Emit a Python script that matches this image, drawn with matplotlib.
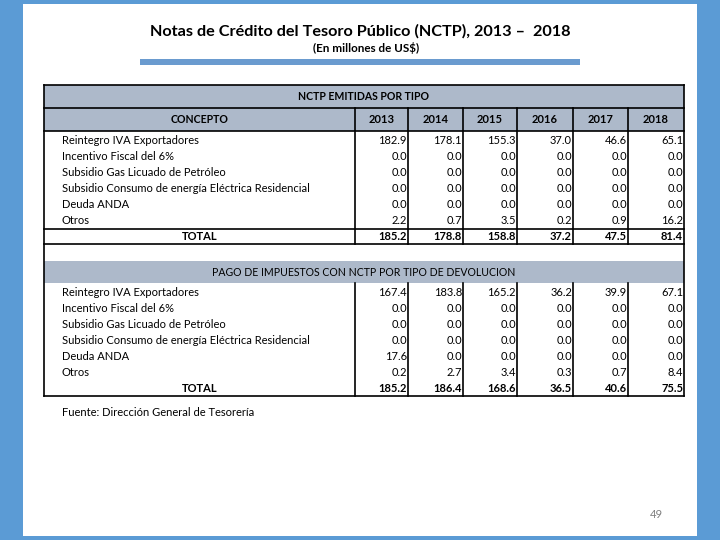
import matplotlib
matplotlib.use("Agg")
import matplotlib.pyplot as plt
from matplotlib.patches import Rectangle

title = "Notas de Crédito del Tesoro Público (NCTP), 2013 –  2018"
subtitle = "(En millones de US$)"
section1_title = "NCTP EMITIDAS POR TIPO"
section2_title = "PAGO DE IMPUESTOS CON NCTP POR TIPO DE DEVOLUCION"
concept_header = "CONCEPTO"
years = ["2013", "2014", "2015", "2016", "2017", "2018"]
concepts = ["Reintegro IVA Exportadores", "Incentivo Fiscal del 6%",
            "Subsidio Gas Licuado de Petróleo",
            "Subsidio Consumo de energía Eléctrica Residencial",
            "Deuda ANDA", "Otros"]
total_label = "TOTAL"

emitidas_reintegro = [182.9, 178.1, 155.3, 37.0, 46.6, 65.1]
emitidas_incentivo = [0.0, 0.0, 0.0, 0.0, 0.0, 0.0]
emitidas_gas = [0.0, 0.0, 0.0, 0.0, 0.0, 0.0]
emitidas_energia = [0.0, 0.0, 0.0, 0.0, 0.0, 0.0]
emitidas_anda = [0.0, 0.0, 0.0, 0.0, 0.0, 0.0]
emitidas_otros = [2.2, 0.7, 3.5, 0.2, 0.9, 16.2]
emitidas_total = [185.2, 178.8, 158.8, 37.2, 47.5, 81.4]

pago_reintegro = [167.4, 183.8, 165.2, 36.2, 39.9, 67.1]
pago_incentivo = [0.0, 0.0, 0.0, 0.0, 0.0, 0.0]
pago_gas = [0.0, 0.0, 0.0, 0.0, 0.0, 0.0]
pago_energia = [0.0, 0.0, 0.0, 0.0, 0.0, 0.0]
pago_anda = [17.6, 0.0, 0.0, 0.0, 0.0, 0.0]
pago_otros = [0.2, 2.7, 3.4, 0.3, 0.7, 8.4]
pago_total = [185.2, 186.4, 168.6, 36.5, 40.6, 75.5]

source = "Fuente: Dirección General de Tesorería"
page_number = "49"

plt.rcParams['font.family'] = ['Lato', 'DejaVu Sans']

W, H = 720, 540
fig = plt.figure(figsize=(7.2, 5.4), dpi=100)
fig.patch.set_facecolor("#5B9BD5")
ax = fig.add_axes([0, 0, 1, 1])
ax.set_xlim(0, W)
ax.set_ylim(H, 0)
ax.axis("off")

# white slide area
ax.add_patch(Rectangle((23, 4), 674, 532, facecolor="white", edgecolor="none"))

# titles
ax.text(360, 31, title, ha="center", va="center", fontsize=11.7, fontweight="bold", color="black")
ax.text(366, 48, subtitle, ha="center", va="center", fontsize=8.4, fontweight="bold", color="black")
ax.add_patch(Rectangle((140, 59), 440, 6, facecolor="#6A9BCF", edgecolor="none"))

# table geometry
left, right = 44, 684
col_edges = [left, 355, 408, 463, 517, 573, 628, right]
band = "#ADB9CA"
fs = 8
lc = "black"
lw = 1.2

def draw_section(top, title_txt, title_weight, with_colheader, rows, totals):
    y = top
    th = 23 if with_colheader else 22
    ax.add_patch(Rectangle((left, y), right - left, th, facecolor=band, edgecolor="none"))
    ax.text((left + right) / 2, y + th / 2, title_txt, ha="center", va="center",
            fontsize=7.6, fontweight=title_weight)
    y += th
    if with_colheader:
        ax.add_patch(Rectangle((left, y), right - left, 23, facecolor=band, edgecolor="none"))
        ax.plot([left, right], [y, y], color=lc, lw=lw)
        ax.text((col_edges[0] + col_edges[1]) / 2, y + 11.5, concept_header, ha="center",
                va="center", fontsize=7.6, fontweight="bold")
        for i, yr in enumerate(years):
            ax.text((col_edges[i + 1] + col_edges[i + 2]) / 2, y + 11.5, yr, ha="center",
                    va="center", fontsize=fs, fontweight="bold")
        y += 23
        ax.plot([left, right], [y, y], color=lc, lw=lw)
    body_top = y
    rh = 16
    y += 2
    for name, vals in zip(concepts, rows):
        cy = y + rh / 2
        ax.text(62, cy, name, ha="left", va="center", fontsize=fs)
        for i, v in enumerate(vals):
            ax.text(col_edges[i + 2] - 1, cy, f"{v:.1f}", ha="right", va="center", fontsize=fs)
        y += rh
    if with_colheader:
        ax.plot([left, right], [y, y], color=lc, lw=lw)
    cy = y + 7.5
    ax.text((col_edges[0] + col_edges[1]) / 2, cy, total_label, ha="center", va="center",
            fontsize=fs, fontweight="bold")
    for i, v in enumerate(totals):
        ax.text(col_edges[i + 2] - 1, cy, f"{v:.1f}", ha="right", va="center",
                fontsize=fs, fontweight="bold")
    y += 15
    ax.plot([left, right], [y, y], color=lc, lw=lw)
    for x in col_edges[1:-1]:
        ax.plot([x, x], [body_top - (23 if with_colheader else 0), y], color=lc, lw=lw)
    return y

sec1_rows = [emitidas_reintegro, emitidas_incentivo, emitidas_gas, emitidas_energia,
             emitidas_anda, emitidas_otros]
sec2_rows = [pago_reintegro, pago_incentivo, pago_gas, pago_energia, pago_anda, pago_otros]

top = 85
ax.plot([left, right], [top, top], color=lc, lw=lw)
y1 = draw_section(top, section1_title, "bold", True, sec1_rows, emitidas_total)
y2 = draw_section(y1 + 17, section2_title, "normal", False, sec2_rows, pago_total)
ax.plot([left, left], [top, y2], color=lc, lw=lw)
ax.plot([right, right], [top, y2], color=lc, lw=lw)

ax.text(62, 412, source, ha="left", va="center", fontsize=fs)
ax.text(656, 514, page_number, ha="center", va="center", fontsize=8, color="#7F7F7F")

fig.savefig("out.png", dpi=100, facecolor=fig.get_facecolor())
